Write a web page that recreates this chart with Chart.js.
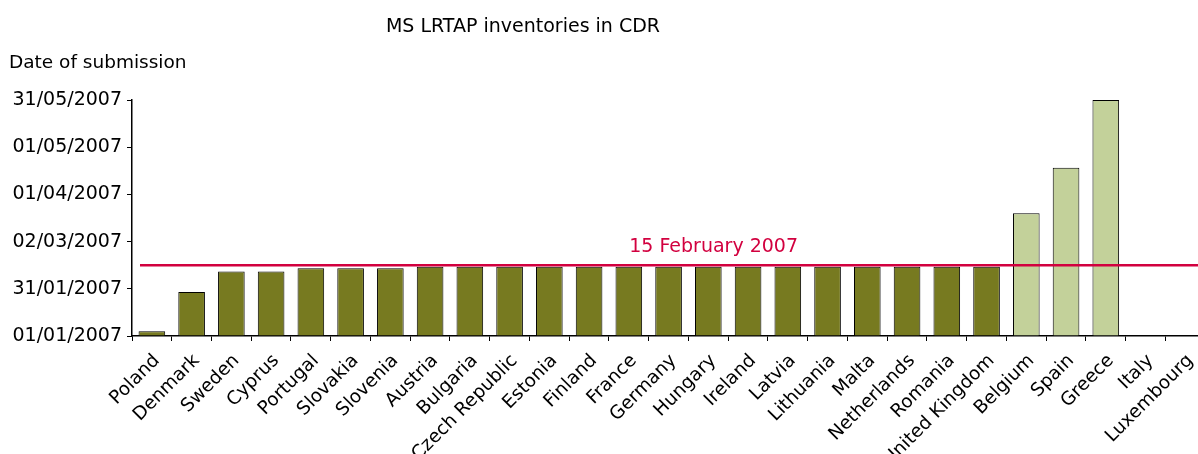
<!DOCTYPE html>
<html><head><meta charset="utf-8">
<script src="https://cdn.jsdelivr.net/npm/chart.js@4/dist/chart.umd.min.js"></script>
<style>html,body{margin:0;padding:0;overflow:hidden;background:#fff}#wrap{width:1210px;height:454px;position:relative}</style>
</head><body><div id="wrap"><canvas id="c"></canvas></div>
<script>
const countries = ["Poland","Denmark","Sweden","Cyprus","Portugal","Slovakia","Slovenia","Austria","Bulgaria","Czech Republic","Estonia","Finland","France","Germany","Hungary","Ireland","Latvia","Lithuania","Malta","Netherlands","Romania","United Kingdom","Belgium","Spain","Greece","Italy","Luxembourg"];
const submissionDates = ["2007-01-04","2007-01-29","2007-02-11","2007-02-11","2007-02-13","2007-02-13","2007-02-13","2007-02-14","2007-02-14","2007-02-14","2007-02-14","2007-02-14","2007-02-14","2007-02-14","2007-02-14","2007-02-14","2007-02-14","2007-02-14","2007-02-14","2007-02-14","2007-02-14","2007-02-14","2007-03-20","2007-04-18","2007-05-31",null,null];
const yTickDates = ["2007-01-01","2007-01-31","2007-03-02","2007-04-01","2007-05-01","2007-05-31"];
const deadline = "2007-02-15";
const deadlineLabel = "15 February 2007";
const chartTitle = "MS LRTAP inventories in CDR";
const yAxisTitle = "Date of submission";

const ORIGIN = Date.UTC(2007,0,1);
function dayOf(s){ if(s===null) return null; const p=s.split("-").map(Number); return (Date.UTC(p[0],p[1]-1,p[2])-ORIGIN)/86400000; }
function fmt(d){ const t=new Date(ORIGIN+d*86400000); const dd=String(t.getUTCDate()).padStart(2,"0"); const mm=String(t.getUTCMonth()+1).padStart(2,"0"); return dd+"/"+mm+"/"+t.getUTCFullYear(); }

const values = submissionDates.map(dayOf);
const tickVals = yTickDates.map(dayOf);
const deadlineDay = dayOf(deadline);
const FONT = "'DejaVu Sans', Verdana, sans-serif";

const overlay = {
  id:'overlay',
  afterDatasetsDraw(chart){
    const ctx=chart.ctx, a=chart.chartArea, y=chart.scales.y.getPixelForValue(deadlineDay);
    ctx.save();
    ctx.strokeStyle='#d2003f'; ctx.lineWidth=2.5;
    ctx.beginPath(); ctx.moveTo(a.left+8,y); ctx.lineTo(a.right,y); ctx.stroke();
    ctx.fillStyle='#d2003f'; ctx.font='19px '+FONT; ctx.textAlign='center'; ctx.textBaseline='alphabetic';
    ctx.fillText(deadlineLabel, a.left+(a.right-a.left)*0.542, y-13.5);
    ctx.fillStyle='#000'; ctx.textAlign='center'; ctx.textBaseline='middle';
    ctx.fillText(chartTitle, 523, 27);
    ctx.font='18.5px '+FONT; ctx.textAlign='left';
    ctx.fillText(yAxisTitle, 9, 63);
    ctx.restore();
  }
};

new Chart(document.getElementById('c'), {
  type:'bar',
  data:{labels:countries, datasets:[{
    data:values,
    backgroundColor:values.map(v=>v!==null&&v>deadlineDay?'#c3d19a':'#777a20'),
    borderColor:'#000', borderWidth:1, borderSkipped:'bottom',
    barPercentage:0.67, categoryPercentage:1
  }]},
  options:{
    responsive:true, maintainAspectRatio:false, animation:false,
    layout:{padding:{top:100,right:1,left:0,bottom:0}},
    plugins:{legend:{display:false},tooltip:{enabled:false},title:{display:false}},
    scales:{
      x:{offset:true,
        afterFit(s){ s.height=118; },
        grid:{offset:true,drawOnChartArea:false,drawTicks:true,tickLength:5,color:'#000'},
        border:{color:'#000',width:1.5},
        ticks:{color:'#000',font:{family:FONT,size:18.5},maxRotation:45,minRotation:45,autoSkip:false,padding:9,labelOffset:5}
      },
      y:{min:0,max:150,
        afterBuildTicks(s){ s.ticks=tickVals.map(v=>({value:v})); },
        afterFit(s){ s.width=132; },
        grid:{drawOnChartArea:false,drawTicks:true,tickLength:5,color:'#000'},
        border:{color:'#000',width:1.5},
        ticks:{color:'#000',font:{family:FONT,size:19},padding:5,callback:v=>fmt(v)}
      }
    }
  },
  plugins:[overlay]
});
</script></body></html>
